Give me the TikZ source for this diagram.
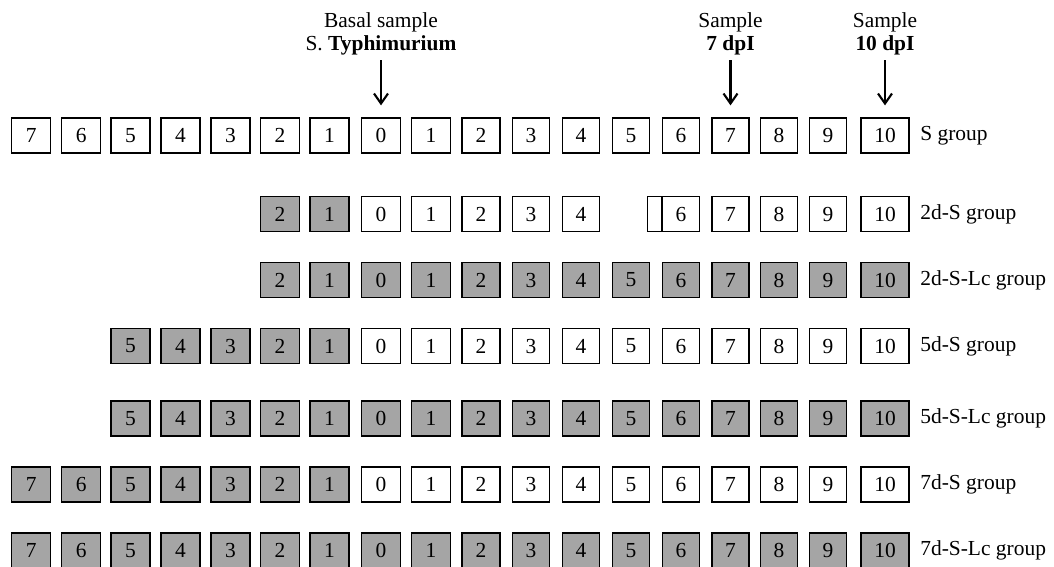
\documentclass[tikz,border=0pt]{standalone}
\usepackage{fontspec}
\setmainfont{Liberation Serif}
\usetikzlibrary{arrows.meta}
\definecolor{lcgray}{RGB}{165,165,165}

\begin{document}
\begin{tikzpicture}[
  x=0.02cm, y=-0.02cm,
  font=\fontsize{12.2}{13.1}\selectfont,
  day/.style={rectangle, draw, line width=0.75pt, minimum height=0.7cm, inner sep=0pt},
  inf/.style={day, fill=lcgray},
  grp/.style={anchor=west, inner sep=0pt},
  smp/.style={align=center, anchor=south, inner sep=0pt},
  samplearrow/.style={-{Straight Barb[length=2mm, width=2.8mm]}, line width=1.2pt, shorten <=0.1cm, shorten >=0.24cm},
]
  \useasboundingbox (0,0) rectangle (1054,566);

  % rows of days: y / first column / last grey column / skipped column / label
  \foreach \y/\first/\gray/\skip/\lbl [count=\r] in {
      135.5/0/-1/-1/S group,
      214/5/6/12/2d-S group,
      280/5/17/-1/2d-S-Lc group,
      346/2/6/-1/5d-S group,
      418.5/2/17/-1/5d-S-Lc group,
      484.5/0/6/-1/7d-S group,
      550.5/0/17/-1/7d-S-Lc group}{
    \foreach \x/\d/\w [count=\c from 0] in {
        31.3/7/0.78, 81.3/6/0.78, 130.5/5/0.78, 180.5/4/0.78, 230.5/3/0.78,
        280/2/0.78, 329.5/1/0.78, 381/0/0.77, 431/1/0.77, 481/2/0.76,
        531/3/0.74, 581/4/0.74, 631/5/0.74, 681/6/0.74, 730.5/7/0.74,
        779/8/0.74, 828/9/0.73, 885/10/0.96}{
      \ifnum\c<\first\else\ifnum\c=\skip\else
        \ifnum\c>\gray \def\st{day}\else\def\st{inf}\fi
        \node[\st, minimum width=\w cm] (b\r-\c) at (\x,\y) {\d};
      \fi\fi
    }
    \node[grp] (g\r) at (920,\y) {\lbl};
  }

  % narrow box in front of day 6
  \node[day, minimum width=0.27cm, anchor=east] (b2-gap) at (b2-13.west) {};

  % sampling points
  \node[smp] (basal) at (381,55) {Basal sample\\S. \textbf{Typhimurium}};
  \node[smp] (dpi7) at (730.5,55) {Sample\\\textbf{7 dpI}};
  \node[smp] (dpi10) at (885,55) {Sample\\\textbf{10 dpI}};

  \draw[samplearrow] (basal) -- (b1-7);
  \draw[samplearrow] (dpi7) -- (b1-14);
  \draw[samplearrow] (dpi10) -- (b1-17);

\end{tikzpicture}
\end{document}
